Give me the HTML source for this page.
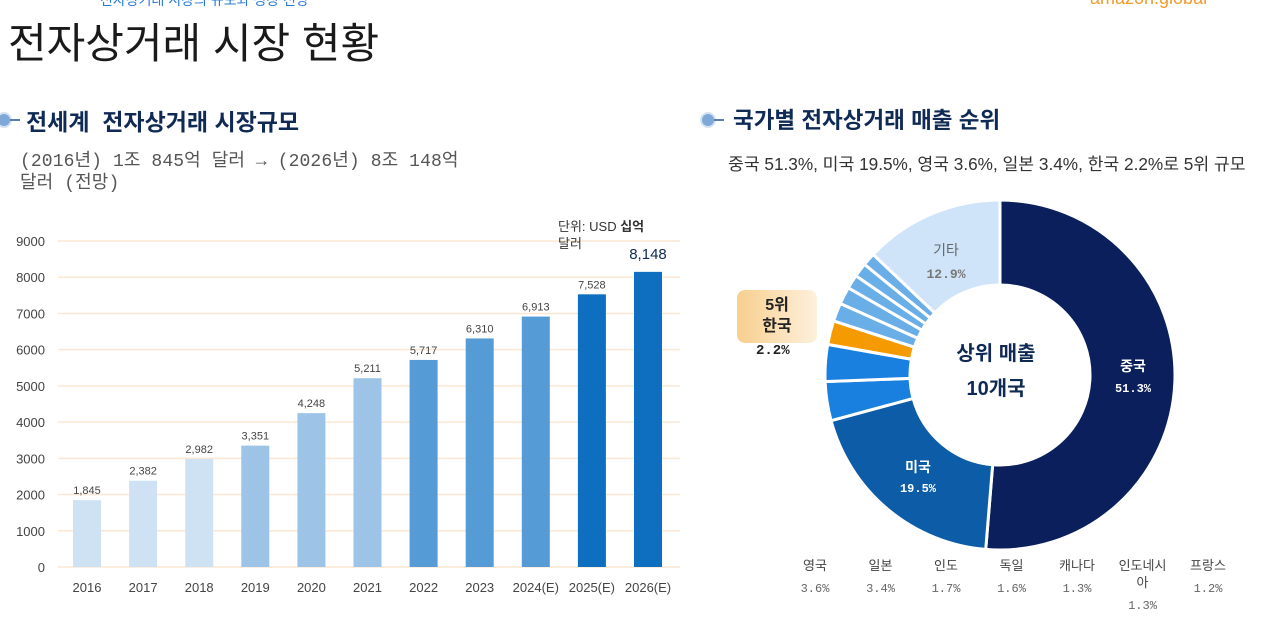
<!DOCTYPE html>
<html><head><meta charset="utf-8">
<style>
body{margin:0;width:1280px;height:621px;overflow:hidden;background:#fff;font-family:"Liberation Sans","Noto Sans CJK KR",sans-serif;position:relative}
.a{position:absolute;white-space:nowrap}
.mono{font-family:"Liberation Mono","Noto Sans CJK KR",monospace}
</style></head><body>
<div class="a" style="left:100px;top:-10px;color:#2a7bd8;font-size:14px">전자상거래 시장의 규모와 성장 전망</div>
<div class="a" style="left:1090px;top:-12px;color:#f29a2e;font-size:18px">amazon.global</div>
<div class="a" style="left:8px;top:10px;font-size:42px;color:#1a1a1a">전자상거래 시장 현황</div>

<div class="a" style="left:-4px;top:112px;width:12px;height:12px;border-radius:50%;background:#7fa8d8;border:2px solid #d3e2f3"></div>
<div class="a" style="left:10px;top:119px;width:10px;height:2px;background:#5a7fb0"></div>
<div class="a" style="left:26px;top:103px;font-size:23px;font-weight:bold;color:#0f2a55">전세계&nbsp; 전자상거래 시장규모</div>
<div class="a mono" style="left:20px;top:151px;font-size:18px;color:#555;line-height:22px;letter-spacing:0.1px">(2016년) 1조 845억 달러 → (2026년) 8조 148억<br>달러 (전망)</div>

<svg class="a" style="left:0;top:0" width="700" height="621" id="bars"></svg>

<div class="a" style="left:700px;top:112px;width:12px;height:12px;border-radius:50%;background:#7fa8d8;border:2px solid #d3e2f3"></div>
<div class="a" style="left:714px;top:119px;width:10px;height:2px;background:#5a7fb0"></div>
<div class="a" style="left:733px;top:103px;font-size:22.5px;font-weight:bold;color:#0f2a55">국가별 전자상거래 매출 순위</div>
<div class="a" style="left:728px;top:150px;font-size:17.2px;color:#333">중국 51.3%, 미국 19.5%, 영국 3.6%, 일본 3.4%, 한국 2.2%로 5위 규모</div>

<div class="a" style="left:737px;top:290px;width:80px;height:53px;border-radius:8px;background:linear-gradient(90deg,#f8cf8e,#fdf0dd);text-align:center;font-size:16px;font-weight:bold;color:#222;line-height:21px;padding-top:5px;box-sizing:border-box">5위<br>한국</div>
<div class="a mono" style="left:756px;top:343px;font-size:14px;font-weight:bold;color:#222">2.2%</div>

<svg class="a" style="left:700px;top:0" width="580" height="621" id="donut"></svg>

<script>
const years=["2016","2017","2018","2019","2020","2021","2022","2023","2024(E)","2025(E)","2026(E)"];
const values=[1845,2382,2982,3351,4248,5211,5717,6310,6913,7528,8148];
const yTicks=[0,1000,2000,3000,4000,5000,6000,7000,8000,9000];
const barColors=["#cfe2f3","#cfe2f3","#cfe2f3","#9dc3e6","#9dc3e6","#9dc3e6","#559bd5","#559bd5","#559bd5","#0e6fc1","#0e6fc1"];
const NS="http://www.w3.org/2000/svg";
function mk(p,t,at){const e=document.createElementNS(NS,t);for(const k in at)e.setAttribute(k,at[k]);p.appendChild(e);return e;}
const bs=document.getElementById('bars');
const y=v=>567-v*(326/9000);
const x=i=>87+i*56.1;
yTicks.forEach(t=>{
 const l=mk(bs,'line',{x1:58,x2:680,y1:y(t),y2:y(t),stroke:'#fbe8d3','stroke-width':1.5});
 
 
 const tx=mk(bs,'text',{x:45,y:y(t)+5,'text-anchor':'end','font-size':13,fill:'#444'});tx.textContent=t;
 
 
});
values.forEach((v,i)=>{
 const r=mk(bs,'rect',{x:x(i)-14,y:y(v),width:28,height:567-y(v),fill:barColors[i]});
 
 
 const last=i===values.length-1;
 const t=mk(bs,'text',{x:x(i),y:y(v)-(last?13:6),'text-anchor':'middle','font-size':last?15:11,fill:last?'#0f2a55':'#444'});
 t.textContent=v.toLocaleString('en-US');
 
 
 const xl=mk(bs,'text',{x:x(i),y:592,'text-anchor':'middle','font-size':13,fill:'#444'});xl.textContent=years[i];
 
 
});
const u=mk(bs,'text',{x:558,y:231,'font-size':13,fill:'#333'});u.innerHTML='단위: USD <tspan font-weight="bold">십억</tspan>';


const u2=mk(bs,'text',{x:558,y:248,'font-size':13,fill:'#333'});u2.textContent='달러';



const countries=["중국","미국","영국","일본","한국","인도","독일","캐나다","인도네시아","프랑스","기타"];
const shares=[51.3,19.5,3.6,3.4,2.2,1.7,1.6,1.3,1.3,1.2,12.9];
const sliceColors=["#0a1f5c","#0d5ca8","#1a80e0","#1a80e0","#f59a00","#6aaee8","#6aaee8","#6aaee8","#6aaee8","#6aaee8","#cfe4f8"];
const ds=document.getElementById('donut');
const cx=300,cy=375,R=175,r0=90;
const tot=shares.reduce((a,b)=>a+b,0);
let ang=0;
function pt(a,rr){return [cx+rr*Math.sin(a),cy-rr*Math.cos(a)];}
shares.forEach((s,i)=>{
 const a0=ang/tot*2*Math.PI,a1=(ang+s)/tot*2*Math.PI;ang+=s;
 const lg=a1-a0>Math.PI?1:0;
 const [x0,y0]=pt(a0,R),[x1,y1]=pt(a1,R),[x2,y2]=pt(a1,r0),[x3,y3]=pt(a0,r0);
 const p=mk(ds,'path',{d:`M${x0},${y0}A${R},${R} 0 ${lg} 1 ${x1},${y1}L${x2},${y2}A${r0},${r0} 0 ${lg} 0 ${x3},${y3}Z`,fill:sliceColors[i],stroke:'#fff','stroke-width':3});
 
 
});
function lbl(txt,px,py,sz,col,cls,name,bold){const t=mk(ds,'text',{x:px,y:py,'text-anchor':'middle','font-size':sz,fill:col});if(cls)t.setAttribute('font-family','Liberation Mono, monospace');if(bold)t.setAttribute('font-weight','bold');t.textContent=txt;
 
 }
lbl(countries[0],433,371,14,'#fff',0,'china-label',1);
lbl(shares[0]+'%',433,392,12,'#fff',1,'china-pct',1);
lbl(countries[1],218,472,14,'#fff',0,'us-label',1);
lbl(shares[1]+'%',218,492,12,'#fff',1,'us-pct',1);
lbl(countries[10],246,255,14,'#666',0,'other-label',0);
lbl(shares[10]+'%',246,278,13,'#777',1,'other-pct',1);
lbl('상위 매출',296,360,20,'#0f2a55',0,'center-label-1',1);
lbl('10개국',296,395,20,'#0f2a55',0,'center-label-2',1);
const legendIdx=[2,3,5,6,7,8,9];
legendIdx.forEach((ci,k)=>{
 const lx=115+k*65.5;
 if(countries[ci]==='인도네시아'){lbl('인도네시',lx,570,13,'#444',0,'legend-name',0);lbl('아',lx,587,13,'#444',0,'legend-name',0);lbl(shares[ci]+'%',lx,609,12,'#666',1,'legend-pct',0);}
 else{lbl(countries[ci],lx,570,13,'#444',0,'legend-name',0);lbl(shares[ci]+'%',lx,592,12,'#666',1,'legend-pct',0);}
});
</script>
</body></html>
